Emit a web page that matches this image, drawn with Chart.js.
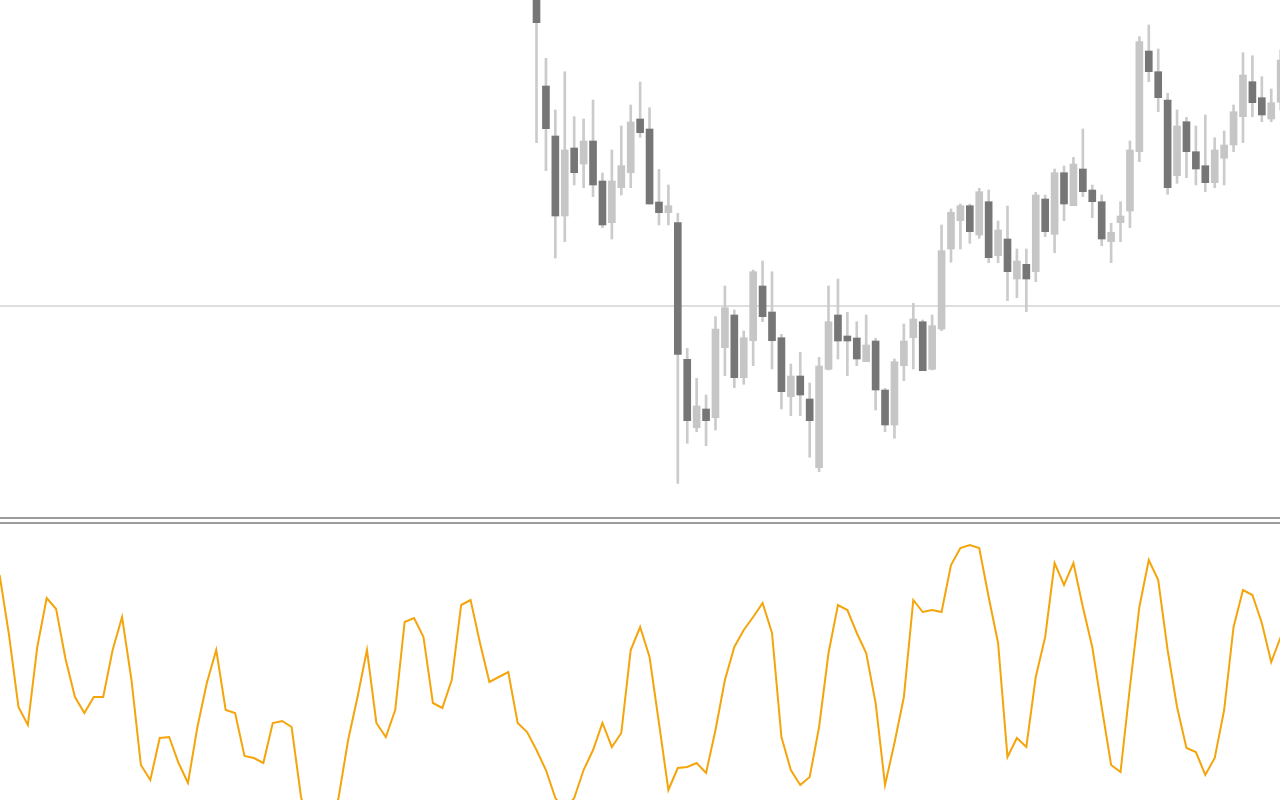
<!DOCTYPE html>
<html>
<head>
<meta charset="utf-8">
<script src="https://cdn.jsdelivr.net/npm/chart.js@4.4.0/dist/chart.umd.min.js"></script>
<style>
    html, body { margin: 0; padding: 0; background: #ffffff; overflow: hidden; }
    canvas { display: block; }
    .sep { height: 2px; background: #9b9b9b; }
    .gap { height: 3px; background: #ffffff; }
</style>
</head>
<body>
<canvas id="pricechart" width="1280" height="517"></canvas>
<div class="sep"></div>
<div class="gap"></div>
<div class="sep"></div>
<canvas id="oscchart" width="1280" height="276"></canvas>
<script>
// bar index of the first candle that has prices
const firstCandle = 57;

const openPrices = [608, 514, 464, 384, 452, 436, 459, 419, 377.3, 412.3,
    427.3, 481, 471, 398, 387.3, 377.3, 240.7, 172.3, 191, 182.3,
    252.3, 285, 222.3, 259.3, 314, 288, 262.3, 203.3, 224, 201,
    132.3, 230.7, 285, 264, 262, 238.3, 259, 210, 175, 234.3,
    262.3, 278.3, 230.7, 271, 351, 379.3, 394.3, 365, 398.3, 344.3,
    361, 321, 335.7, 328.3, 401, 365.7, 427.3, 394.3, 431, 410,
    398.3, 358.3, 377.3, 389, 448.3, 549, 528.3, 500, 424.3, 478.3,
    448.3, 434.3, 417.3, 441.7, 455, 483.3, 518.3, 502.3, 481, 497.7];

const highPrices = [620, 541.7, 490, 528.3, 483.3, 481, 500, 427, 450, 474,
    495, 518, 492.3, 430.7, 415, 386.7, 251.7, 221.7, 205, 283.3,
    314, 290, 269, 330, 339, 328.3, 265.7, 236, 247.7, 217,
    242.7, 314, 321, 287.7, 278.3, 285, 261.7, 211.7, 241, 276,
    296.7, 280, 285, 375, 391, 396, 396, 411.7, 410, 379,
    394, 351, 351, 407.7, 405, 431, 434, 442.7, 471, 415,
    405, 376.7, 398.3, 459, 563.3, 575, 551, 506.7, 490, 482.7,
    474, 485, 462.3, 469, 495, 547.3, 544.3, 523.3, 511, 550];

const lowPrices = [457.3, 429.3, 342, 358.3, 415, 412.3, 403.3, 372.3, 361, 405,
    412.3, 462.7, 396, 375, 375, 116.7, 156.7, 168.3, 154.3, 170,
    224.3, 212.3, 215.7, 234.3, 278.3, 231, 191, 184.3, 184.3, 142.7,
    128.3, 230, 241, 224.3, 234.3, 238.3, 190, 168.3, 161.7, 219.3,
    231, 229.3, 230, 269.3, 337.7, 351, 356.7, 361.7, 337.3, 337.3,
    299.3, 302.3, 288.3, 318.3, 363.3, 347.3, 379.3, 394.3, 403.3, 382.3,
    354.3, 337.3, 358.3, 372.3, 438.3, 518.3, 488.3, 405.7, 416.7, 422.3,
    415, 408.3, 412.3, 415, 448.3, 457.3, 483.3, 478.3, 478.3, 490];

const closePrices = [577.3, 471.3, 384, 450, 427.3, 459, 415, 375, 419, 434.3,
    478, 467.3, 396, 387.3, 394.3, 245.7, 179.3, 194, 179.3, 271,
    292.3, 222.3, 262.3, 328.3, 283.3, 259.3, 208.3, 224, 205, 179.3,
    234, 278.3, 259, 259, 241, 255, 210, 175, 238.3, 259,
    281, 229.3, 274.3, 349.3, 387.7, 394.3, 368.3, 408.3, 342.3, 370,
    328.3, 339, 321, 405, 368.3, 427.3, 396, 436, 408.3, 398.3,
    361, 367.7, 384, 450, 558.3, 528.3, 502.3, 412.3, 474, 448.3,
    431, 417.3, 450, 455, 488.3, 525, 497.3, 485, 497.3, 540];

// horizontal level drawn across the price panel
const levelPrice = 294;

// oscillator, one value per bar starting at bar 0
const oscValues = [225, 165, 93, 75, 153, 202, 191, 141, 103, 87,
    103, 103, 150, 183, 120, 35, 20, 62, 63, 37,
    17, 73, 117, 150, 90, 87, 44, 42, 37, 77,
    79, 73, 3, -30, -50, -35, 3, 60, 103, 150,
    77, 63, 90, 178, 182, 163, 97, 92, 120, 195,
    200, 157, 118, 123, 128, 77, 68, 50, 30, 2,
    -10, 2, 30, 50, 77, 53, 67, 150, 173, 143,
    77, 10, 32, 33, 37, 27, 70, 120, 153, 170,
    183, 197, 167, 63, 30, 15, 23, 73, 147, 195,
    190, 167, 147, 97, 15, 57, 103, 200, 188, 190,
    188, 235, 252, 255, 252, 203, 157, 43, 62, 53,
    123, 163, 237, 215, 237, 193, 153, 93, 35, 28,
    113, 193, 240, 220, 150, 93, 52, 48, 25, 42,
    90, 173, 210, 205, 177, 138, 163];

const xMin = 0.0425;
const xMax = 135.93;

const upColor = '#c6c6c6';
const downColor = '#767676';
const wickColor = '#cbcbcb';

function makeBodies() {
    let bodies = [];
    let colors = [];
    for (let i = 0; i < openPrices.length; i++) {
        bodies.push({ x: firstCandle + i, y: [openPrices[i], closePrices[i]] });
        colors.push(closePrices[i] < openPrices[i] ? downColor : upColor);
    }
    return { data: bodies, colors: colors };
}

function makeWicks() {
    let wicks = [];
    for (let i = 0; i < highPrices.length; i++) {
        wicks.push({ x: firstCandle + i, y: [lowPrices[i], highPrices[i]] });
    }
    return wicks;
}

const bodies = makeBodies();

const priceChart = new Chart(document.getElementById('pricechart'), {
    type: 'bar',
    data: {
        datasets: [{
            data: bodies.data,
            backgroundColor: bodies.colors,
            barThickness: 7,
            grouped: false,
            borderWidth: 0,
            order: 0
        }, {
            data: makeWicks(),
            backgroundColor: wickColor,
            barThickness: 2,
            grouped: false,
            borderWidth: 0,
            order: 1
        }, {
            type: 'line',
            data: [{ x: xMin, y: levelPrice }, { x: xMax, y: levelPrice }],
            borderColor: '#dedede',
            borderWidth: 2,
            pointRadius: 0,
            order: 2
        }]
    },
    options: {
        responsive: false,
        animation: false,
        layout: { padding: 0 },
        plugins: { legend: { display: false }, tooltip: { enabled: false } },
        scales: {
            x: { type: 'linear', min: xMin, max: xMax, offset: false, bounds: 'ticks', display: false, grid: { offset: false } },
            y: { min: 83, max: 600, display: false }
        }
    }
});

const oscChart = new Chart(document.getElementById('oscchart'), {
    type: 'line',
    data: {
        datasets: [{
            data: oscValues.map((v, i) => ({ x: i, y: v })),
            borderColor: '#f5a50c',
            borderWidth: 2,
            pointRadius: 0,
            tension: 0,
            fill: false
        }]
    },
    options: {
        responsive: false,
        animation: false,
        layout: { padding: 0 },
        plugins: { legend: { display: false }, tooltip: { enabled: false } },
        scales: {
            x: { type: 'linear', min: xMin, max: xMax, display: false },
            y: { min: 0, max: 276, display: false }
        }
    }
});
</script>
</body>
</html>
